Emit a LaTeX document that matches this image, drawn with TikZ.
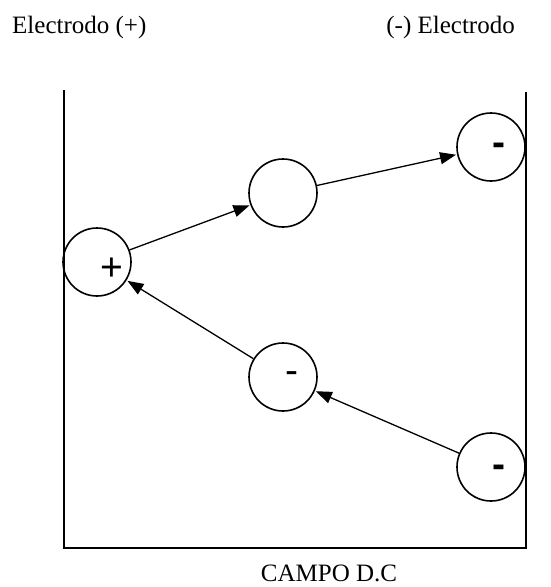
\documentclass[tikz,border=0pt]{standalone}
\usepackage{fontspec}
\setmainfont{Liberation Serif}
\newfontfamily\signfont{Liberation Sans}
\usetikzlibrary{arrows.meta}
\begin{document}
\begin{tikzpicture}[x=1pt,y=-1pt,
  particle/.style={draw,line width=1.6pt,circle,minimum size=68pt,inner sep=0pt},
  flow/.style={line width=1.3pt,-{Triangle[length=16pt,width=12pt]},shorten >=1pt},
  wall/.style={line width=1.6pt},
  caption/.style={font=\fontsize{25}{29}\selectfont,inner sep=0pt,anchor=base west},
  sign/.style={font=\signfont\fontsize{39}{40}\selectfont,inner sep=0pt},
  boldsign/.style={font=\signfont\bfseries\fontsize{39}{40}\selectfont,inner sep=0pt}]
\useasboundingbox (0,0) rectangle (551,587);

% electrode labels and field caption
\node[caption] (lpos) at (12,33) {Electrodo (+)};
\node[caption,anchor=base east] (rneg) at (515,33) {(-) Electrodo};
\node[caption,anchor=base] (field) at (329,581) {CAMPO D.C};

% the cell walls
\coordinate (tl) at (64,90);
\coordinate (bl) at (64,548);
\coordinate (br) at (526,548);
\coordinate (tr) at (526,92);
\draw[wall] (tl) -- (bl) -- (br) -- (tr);

% particles
\node[particle] (pplus) at (97,262) {};
\node[particle] (pmid) at (283,193) {};
\node[particle] (ptop) at (491,147) {};
\node[particle] (plow) at (283,377) {};
\node[particle] (pbot) at (491,467) {};

% charge signs
\node[sign] (splus) at (112,269) {+};
\node[boldsign] (stop) at (499,149) {-};
\node[sign] (slow) at (292,378) {-};
\node[boldsign] (sbot) at (499,471) {-};

% migration paths
\draw[flow] (pplus) -- (pmid);
\draw[flow] (pmid) -- (ptop);
\draw[flow] (pbot) -- (plow);
\draw[flow] (plow) -- (pplus);
\end{tikzpicture}
\end{document}
